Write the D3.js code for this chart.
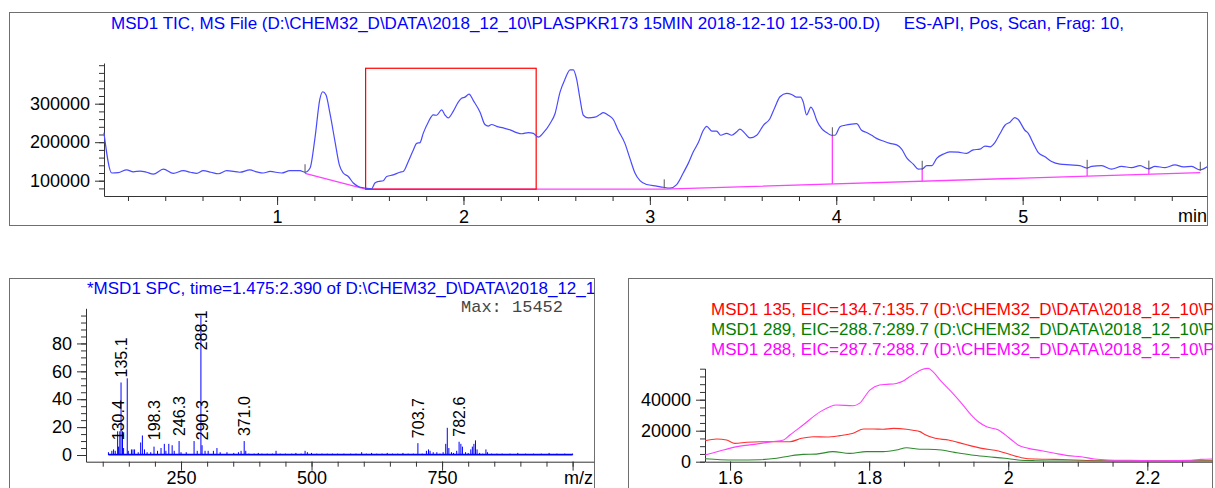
<!DOCTYPE html>
<html>
<head>
<meta charset="utf-8">
<script src="https://cdn.jsdelivr.net/npm/d3@7"></script>
<style>
  body { margin: 0; background: #fff; }
  svg { display: block; font-family: "Liberation Sans", Arial, sans-serif; }
  .axis text { font-size: 18px; fill: #000; font-family: "Liberation Sans", Arial, sans-serif; }
  .axis line, .axis path { stroke: #333; }
  .frame { fill: none; stroke: #6f6f6f; }
</style>
</head>
<body>
<script>
// ---- TIC (top panel), time in min, abundance in counts
var ticTime = [0.071, 0.113, 0.148, 0.193, 0.229, 0.265, 0.30, 0.336, 0.39, 0.443, 0.497, 0.535, 0.569, 0.604,
  0.645, 0.685, 0.73, 0.8, 0.854, 0.89, 0.926, 0.962, 1.024, 1.069, 1.123, 1.15, 1.177, 1.203, 1.23, 1.245,
  1.262, 1.284, 1.311, 1.334, 1.355, 1.382, 1.409, 1.436, 1.472, 1.507, 1.525, 1.543, 1.57, 1.588, 1.623,
  1.659, 1.677, 1.704, 1.731, 1.749, 1.767, 1.784, 1.811, 1.838, 1.856, 1.883, 1.9, 1.918, 1.945, 1.972,
  1.99, 2.008, 2.03, 2.053, 2.089, 2.115, 2.133, 2.151, 2.178, 2.214, 2.25, 2.285, 2.312, 2.348, 2.375,
  2.401, 2.428, 2.464, 2.491, 2.518, 2.545, 2.572, 2.589, 2.607, 2.625, 2.643, 2.67, 2.705, 2.732, 2.75,
  2.777, 2.804, 2.83, 2.866, 2.893, 2.92, 2.947, 2.983, 3.036, 3.072, 3.108, 3.144, 3.179, 3.206, 3.233,
  3.26, 3.287, 3.305, 3.332, 3.358, 3.38, 3.412, 3.439, 3.466, 3.483, 3.51, 3.537, 3.573, 3.609, 3.644,
  3.671, 3.698, 3.734, 3.761, 3.788, 3.809, 3.823, 3.841, 3.864, 3.876, 3.895, 3.922, 3.948, 3.975, 3.993,
  4.02, 4.047, 4.083, 4.109, 4.136, 4.163, 4.19, 4.216, 4.252, 4.288, 4.324, 4.351, 4.377, 4.413, 4.44,
  4.463, 4.485, 4.512, 4.539, 4.574, 4.61, 4.654, 4.699, 4.735, 4.771, 4.798, 4.825, 4.851, 4.878, 4.905,
  4.932, 4.958, 4.976, 5.012, 5.03, 5.057, 5.084, 5.12, 5.155, 5.2, 5.254, 5.307, 5.343, 5.37, 5.424,
  5.477, 5.531, 5.585, 5.63, 5.674, 5.71, 5.764, 5.817, 5.862, 5.907, 5.951, 5.99];
var ticValue = [225, 120, 121, 128, 123, 125, 122, 117, 130, 119, 126, 122, 119, 126,
  122, 118, 126, 122, 128, 123, 120, 124, 120, 126, 126, 122, 133, 210, 313, 331,
  323, 274, 201, 141, 120, 111, 94, 85, 81, 79, 94, 98, 100, 111, 115,
  122, 124, 150, 180, 197, 199, 223, 252, 271, 270, 284, 271, 263, 280, 304,
  314, 317, 325, 308, 278, 246, 242, 246, 241, 237, 232, 225, 222, 225, 223,
  213, 224, 248, 274, 330, 364, 388, 388, 364, 313, 270, 263, 265, 272, 277,
  270, 259, 231, 197, 158, 120, 100, 90, 86, 83, 81, 90, 120, 145, 175,
  199, 231, 241, 229, 229, 218, 223, 218, 227, 234, 223, 211, 218, 244, 261,
  291, 318, 327, 324, 317, 317, 304, 271, 291, 283, 257, 235, 225, 218, 218,
  240, 244, 247, 248, 231, 225, 218, 210, 203, 197, 193, 182, 160, 143, 130,
  131, 139, 139, 158, 169, 175, 174, 171, 180, 182, 190, 188, 199, 222, 244,
  252, 264, 259, 231, 223, 197, 173, 162, 150, 143, 141, 139, 133, 137, 139,
  130, 137, 134, 139, 131, 137, 134, 141, 136, 137, 128, 136].map(function(v) { return v * 1000; });

// integration baseline and peak markers
var baseTime = [1.15, 1.475, 3.077, 5.953];
var baseValue = [119000, 78000, 78000, 121000];
var markerTimes = [1.15, 3.077, 3.979, 4.461, 5.346, 5.677, 5.953];
var dropTimes = [3.979, 4.461, 5.346, 5.677];
var selection = [1.475, 2.390];
var selectionTop = 392000;

var ticMajor = [1, 2, 3, 4, 5];
var ticYLabels = [100000, 200000, 300000];

// ---- averaged spectrum (bottom left), m/z and relative abundance %
var specMz = [111, 117.5, 120.8, 124, 128.6, 130.4, 132.8, 135.1, 137.9, 140, 147, 149, 155, 158, 161, 168,
  172.7, 176, 180, 185, 192, 198.3, 205, 211.7, 218, 221, 226.6, 233, 237, 246.3, 250, 260, 275, 281,
  288.1, 290.3, 296, 302, 312, 318.8, 325, 338, 351, 360, 365, 371.0, 374,
  380, 390, 398, 405, 415, 425, 432, 440, 450, 462, 470, 480, 487.6, 492, 500, 510, 520, 530, 540,
  550, 562, 575, 585, 596, 605, 615, 625, 635, 645, 655, 665, 675, 685, 695, 703.7, 712, 720, 724,
  727, 733, 740, 746, 752, 757, 760, 763, 768, 772, 778, 782.6, 786, 789, 795, 800, 805, 808, 811,
  814, 817, 822, 828, 834, 837, 845, 855, 865, 880, 895, 910, 925, 940, 955, 970, 985, 1000];
var specInt = [2, 3, 4, 3, 17, 6, 17, 52, 17, 5, 55, 3, 4, 4, 4, 2,
  9, 14, 4, 2, 2, 6, 3, 5, 8, 3, 8, 7, 3, 10, 2, 2, 10, 3,
  100, 7, 3, 3, 3, 5, 2, 2, 1.5, 2, 3, 10, 3,
  1, 1, 1.5, 1, 1, 1, 3, 1, 1, 1, 1.5, 1, 3, 2, 1.5, 1, 1, 1, 1,
  1, 1, 1, 1, 2, 1, 1.5, 1, 1, 1.5, 1, 1, 1.5, 1, 1, 8.5, 1, 3, 4,
  3, 2, 2, 1, 2, 8, 19.5, 5, 2, 1.5, 3, 9.5, 8, 6, 2, 1.5, 4, 6, 8,
  10.5, 4, 1.5, 1, 4, 2, 1, 1, 1, 1, 1.5, 1, 1, 1, 1.5, 1, 1, 1];
var specLabels = [130.4, 135.1, 198.3, 246.3, 288.1, 290.3, 371.0, 703.7, 782.6];
var specMajor = [250, 500, 750, 1000];
var specXLabels = [250, 500, 750];
var specYLabels = [0, 20, 40, 60, 80];
var specMax = 15452;

// ---- extracted ion chromatograms (bottom right)
var eic135Time = [1.564, 1.581, 1.595, 1.607, 1.624, 1.643, 1.667, 1.686, 1.703, 1.72, 1.739, 1.758, 1.777,
  1.792, 1.806, 1.82, 1.835, 1.854, 1.863, 1.873, 1.88, 1.895, 1.914, 1.938, 1.962, 1.986, 2.005, 2.019,
  2.038, 2.067, 2.096, 2.129, 2.177, 2.294];
var eic135Value = [13500, 14600, 14000, 11800, 12500, 12900, 12900, 12900, 15100, 16100, 15900, 16800, 18300,
  21100, 21100, 20900, 21500, 20900, 20300, 19400, 17600, 15100, 14000, 11200, 8600, 6900, 4300, 2600,
  1700, 1500, 1100, 650, 430, 650];
var eic289Time = [1.564, 1.586, 1.61, 1.643, 1.667, 1.686, 1.705, 1.724, 1.748, 1.772, 1.796, 1.82, 1.839,
  1.854, 1.873, 1.885, 1.904, 1.923, 1.947, 1.971, 1.995, 2.014, 2.038, 2.081, 2.153, 2.294];
var eic289Value = [1900, 1300, 1100, 1300, 2200, 3700, 4700, 4900, 6500, 5400, 6500, 6500, 7500,
  9000, 8000, 8000, 7500, 6000, 4300, 3200, 2200, 1100, 650, 430, 430, 430];
var eic288Time = [1.564, 1.585, 1.61, 1.635, 1.66, 1.677, 1.686, 1.705, 1.73, 1.753, 1.777, 1.786, 1.801,
  1.815, 1.825, 1.839, 1.849, 1.857, 1.866, 1.876, 1.885, 1.892, 1.904, 1.918, 1.933, 1.947, 1.957,
  1.969, 1.986, 1.995, 2.005, 2.014, 2.029, 2.048, 2.067, 2.086, 2.105, 2.124, 2.143, 2.177, 2.225,
  2.263, 2.277, 2.294];
var eic288Value = [4300, 6900, 9700, 11200, 12900, 14000, 17200, 23700, 32300, 36600, 36100, 37600, 46200,
  49500, 49900, 50500, 52000, 54500, 57000, 59500, 60200, 58000, 51600, 45200, 37600, 30100, 25800,
  22600, 20400, 17600, 14000, 10800, 8600, 7100, 5400, 3900, 3200, 1700, 1100, 900, 650,
  900, 1500, 1700];
var eicMajor = [1.6, 1.8, 2, 2.2];
var eicYLabels = [0, 20000, 40000];

var tail = ' (D:\\CHEM32_D\\DATA\\2018_12_10\\PLASPKR173 15MIN 2018-12-10 12-53-00.D)';
var eicSeries = [
  { name: 'MSD1 135, EIC=134.7:135.7' + tail, color: '#ff0000', line: '#ff3030', t: eic135Time, v: eic135Value },
  { name: 'MSD1 289, EIC=288.7:289.7' + tail, color: '#008000', line: '#2f8a2f', t: eic289Time, v: eic289Value },
  { name: 'MSD1 288, EIC=287.7:288.7' + tail, color: '#ff00ff', line: '#ff40ff', t: eic288Time, v: eic288Value }
];

var width = 1215;
var height = 488;

var svg = d3.select('body')
  .append('svg')
  .attr('width', width)
  .attr('height', height);

var defs = svg.append('defs');

function frame(id, x, y, w, h) {
  defs.append('clipPath').attr('id', id)
    .append('rect').attr('x', x).attr('y', y).attr('width', w).attr('height', h);
  svg.append('rect').attr('class', 'frame')
    .attr('x', x).attr('y', y).attr('width', w).attr('height', h);
  return svg.append('g').attr('clip-path', 'url(#' + id + ')');
}

// minor ticks without labels, then major ticks with labels
function axes(g, xScale, yScale, xAt, yAt, xMinor, xMajor, xLabels, yMinor, yMajor, yLabels, xPad) {
  g.append('g').attr('class', 'axis')
    .attr('transform', 'translate(0,' + xAt + ')')
    .call(d3.axisBottom(xScale).tickValues(xMinor).tickSize(5).tickSizeOuter(0).tickFormat(''));
  g.append('g').attr('class', 'axis')
    .attr('transform', 'translate(0,' + xAt + ')')
    .call(d3.axisBottom(xScale).tickValues(xMajor).tickSize(9).tickPadding(xPad)
      .tickFormat(function(d) { return xLabels.indexOf(d) >= 0 ? String(d) : ''; }))
    .select('.domain').remove();
  g.append('g').attr('class', 'axis')
    .attr('transform', 'translate(' + yAt + ',0)')
    .call(d3.axisLeft(yScale).tickValues(yMinor).tickSize(5).tickSizeOuter(0).tickFormat(''));
  g.append('g').attr('class', 'axis')
    .attr('transform', 'translate(' + yAt + ',0)')
    .call(d3.axisLeft(yScale).tickValues(yMajor).tickSize(9).tickPadding(5)
      .tickFormat(function(d) { return yLabels.indexOf(d) >= 0 ? String(d) : ''; }))
    .select('.domain').remove();
}

function interp(ts, vs, t) {
  var i = d3.bisectLeft(ts, t);
  if (i <= 0) return vs[0];
  if (i >= ts.length) return vs[vs.length - 1];
  var f = (t - ts[i - 1]) / (ts[i] - ts[i - 1]);
  return vs[i - 1] + f * (vs[i] - vs[i - 1]);
}

// ================= top: TIC
var ticPanel = frame('clipTop', 9.5, 12.5, 1198, 213);

ticPanel.append('text')
  .attr('x', 111).attr('y', 29)
  .attr('xml:space', 'preserve')
  .style('white-space', 'pre')
  .attr('font-size', 17).attr('fill', '#0000ff')
  .text('MSD1 TIC, MS File' + tail + '     ES-API, Pos, Scan, Frag: 10,');

var xTic = d3.scaleLinear().domain([0.0714, 5.989]).range([104, 1207]);
var yTic = d3.scaleLinear().domain([60260, 405700]).range([196, 63]);

axes(ticPanel, xTic, yTic, 196, 104,
  d3.range(0.2, 5.9, 0.2), ticMajor, ticMajor,
  d3.range(80000, 400001, 20000), ticYLabels, ticYLabels, 5);

ticPanel.append('text')
  .attr('x', 1207).attr('y', 222)
  .attr('text-anchor', 'end').attr('font-size', 18)
  .text('min');

// integration baseline
ticPanel.append('path')
  .datum(baseTime.map(function(t, i) { return [t, baseValue[i]]; }))
  .attr('fill', 'none').attr('stroke', '#ff40ff').attr('stroke-width', 1.3)
  .attr('d', d3.line()
    .x(function(d) { return xTic(d[0]); })
    .y(function(d) { return yTic(d[1]); }));

// drop lines to baseline
ticPanel.selectAll('.drop')
  .data(dropTimes)
  .enter().append('line')
  .attr('class', 'drop')
  .attr('x1', function(d) { return xTic(d); })
  .attr('x2', function(d) { return xTic(d); })
  .attr('y1', function(d) { return yTic(interp(ticTime, ticValue, d)); })
  .attr('y2', function(d) { return yTic(interp(baseTime, baseValue, d)); })
  .attr('stroke', '#ff40ff').attr('stroke-width', 1.3);

// selected range of the averaged spectrum
ticPanel.append('rect')
  .attr('x', xTic(selection[0]))
  .attr('y', yTic(selectionTop))
  .attr('width', xTic(selection[1]) - xTic(selection[0]))
  .attr('height', yTic(baseValue[1]) - yTic(selectionTop))
  .attr('fill', 'none').attr('stroke', '#ff0000').attr('stroke-width', 1.2);

ticPanel.append('path')
  .datum(ticTime.map(function(t, i) { return [t, ticValue[i]]; }))
  .attr('fill', 'none').attr('stroke', '#4a4aff').attr('stroke-width', 1.2)
  .attr('d', d3.line()
    .curve(d3.curveMonotoneX)
    .x(function(d) { return xTic(d[0]); })
    .y(function(d) { return yTic(d[1]); }));

// peak start/end markers
ticPanel.selectAll('.marker')
  .data(markerTimes)
  .enter().append('line')
  .attr('class', 'marker')
  .attr('x1', function(d) { return xTic(d); })
  .attr('x2', function(d) { return xTic(d); })
  .attr('y1', function(d) { return yTic(interp(ticTime, ticValue, d)) - 8; })
  .attr('y2', function(d) { return yTic(interp(ticTime, ticValue, d)) + 1; })
  .attr('stroke', '#555').attr('stroke-width', 1);

// ================= bottom left: spectrum
var spc = frame('clipSpc', 9.5, 278.5, 585, 220);

spc.append('text')
  .attr('x', 87).attr('y', 294)
  .attr('font-size', 17).attr('fill', '#0000ff')
  .text('*MSD1 SPC, time=' + selection[0].toFixed(3) + ':' + selection[1].toFixed(3) + ' of' + tail.replace(' (', ' ').replace(')', ''));

spc.append('text')
  .attr('x', 461).attr('y', 312)
  .attr('font-size', 17).attr('fill', '#444')
  .attr('font-family', '"Liberation Mono", "Courier New", monospace')
  .text('Max: ' + specMax);

var xSpec = d3.scaleLinear().domain([68, 1041]).range([86, 594]);
var ySpec = d3.scaleLinear().domain([-4.8, 105.2]).range([461.7, 308.3]);

axes(spc, xSpec, ySpec, 461.7, 86,
  d3.range(100, 1001, 50), specMajor, specXLabels,
  d3.range(0, 101, 5), specYLabels, specYLabels, 0.5);

spc.append('text')
  .attr('x', 593).attr('y', 484)
  .attr('text-anchor', 'end').attr('font-size', 18)
  .text('m/z');

// noise floor
spc.append('line')
  .attr('x1', xSpec(specMz[0])).attr('x2', xSpec(specMz[specMz.length - 1]))
  .attr('y1', ySpec(0.3)).attr('y2', ySpec(0.3))
  .attr('stroke', '#0000ff').attr('stroke-width', 1.6);

spc.selectAll('.bar')
  .data(specMz)
  .enter().append('line')
  .attr('class', 'bar')
  .attr('x1', function(d) { return xSpec(d); })
  .attr('x2', function(d) { return xSpec(d); })
  .attr('y1', ySpec(0))
  .attr('y2', function(d, i) { return ySpec(specInt[i]); })
  .attr('stroke', '#0000ff').attr('stroke-width', 1);

spc.selectAll('.plabel')
  .data(specLabels)
  .enter().append('text')
  .attr('class', 'plabel')
  .attr('font-size', 16)
  .attr('transform', function(d) {
    var v = specInt[specMz.indexOf(d)];
    var yb = Math.max(ySpec(Math.max(v, 7)) - 5, ySpec(105.2) + 42);
    return 'translate(' + (xSpec(d) + 5.7) + ',' + yb + ') rotate(-90)';
  })
  .text(function(d) { return d.toFixed(1); });

// ================= bottom right: EICs
var eic = frame('clipEic', 628.5, 278.5, 584, 220);

var xEic = d3.scaleLinear().domain([1.564, 2.294]).range([705, 1212.7]);
var yEic = d3.scaleLinear().domain([0, 60260]).range([461.7, 368.3]);

axes(eic, xEic, yEic, 461.7, 705,
  d3.range(1.6, 2.3, 0.05), eicMajor, eicMajor,
  d3.range(0, 60001, 5000), eicYLabels, eicYLabels, 0.5);

eic.selectAll('.legend')
  .data(eicSeries)
  .enter().append('text')
  .attr('class', 'legend')
  .attr('x', 711)
  .attr('y', function(d, i) { return 314.5 + i * 20.4; })
  .attr('font-size', 17)
  .attr('fill', function(d) { return d.color; })
  .text(function(d) { return d.name; });

eic.selectAll('.trace')
  .data(eicSeries)
  .enter().append('path')
  .attr('class', 'trace')
  .attr('fill', 'none')
  .attr('stroke', function(d) { return d.line; })
  .attr('stroke-width', 1.1)
  .attr('d', function(d) {
    return d3.line()
      .curve(d3.curveMonotoneX)
      .x(function(p) { return xEic(p[0]); })
      .y(function(p) { return yEic(p[1]); })(d.t.map(function(t, i) { return [t, d.v[i]]; }));
  });
</script>
</body>
</html>
